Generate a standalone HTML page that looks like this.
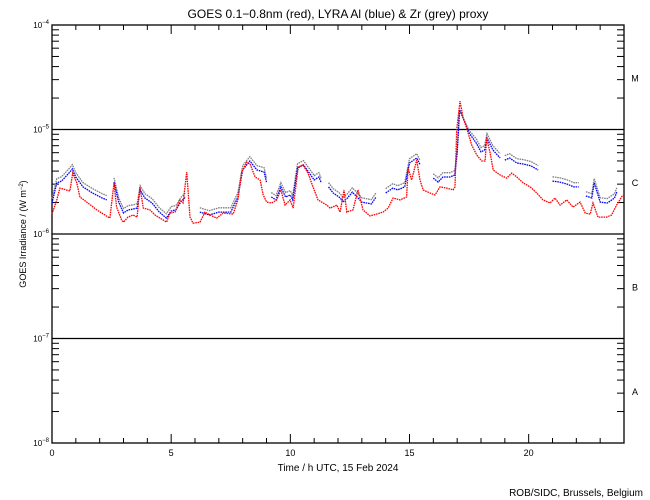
<!DOCTYPE html>
<html><head><meta charset="utf-8"><style>
html,body{margin:0;padding:0;background:#fff;}
svg{display:block;font-family:"Liberation Sans",sans-serif;}
</style></head><body>
<svg id="chart" width="650" height="500" viewBox="0 0 650 500" xmlns="http://www.w3.org/2000/svg">
<rect width="650" height="500" fill="#fff"/>
<text x="338" y="18" font-size="12" text-anchor="middle">GOES 0.1−0.8nm (red), LYRA Al (blue) &amp; Zr (grey) proxy</text>
<text x="338" y="471" font-size="10" text-anchor="middle">Time / h UTC, 15 Feb 2024</text>
<text transform="translate(26,234) rotate(-90)" font-size="9" text-anchor="middle">GOES Irradiance / (W m<tspan dy="-3" font-size="6">−2</tspan><tspan dy="3">)</tspan></text>
<text x="643" y="496" font-size="10" text-anchor="end">ROB/SIDC, Brussels, Belgium</text>
<g id="axes"></g>
<g id="series"></g>
</svg>
<script>
const xTickLabels = ["0","5","10","15","20"];
const yDecades = [-4,-5,-6,-7,-8];
const classLabels = ["M","C","B","A"];
// values in units of 1e-6 W/m^2
const redTimes = [0,0.2,0.33,0.75,0.87,1.04,1.17,1.46,1.88,2.22,2.43,2.6,2.71,2.92,3.0,3.19,3.4,3.57,3.69,3.83,4.11,4.32,4.53,4.81,4.95,5.16,5.37,5.5,5.65,5.79,5.92,6.21,6.42,6.63,6.91,7.18,7.6,7.8,7.96,8.17,8.31,8.52,8.73,8.86,9.01,9.22,9.43,9.6,9.78,9.99,10.12,10.33,10.53,10.74,10.95,11.16,11.53,11.67,11.95,12.09,12.25,12.37,12.63,12.84,13.05,13.34,13.62,13.89,14.1,14.31,14.6,14.88,14.94,15.09,15.3,15.44,15.57,15.86,16.07,16.28,16.56,16.83,16.91,16.98,17.12,17.25,17.4,17.61,17.82,18.03,18.17,18.24,18.38,18.51,18.8,19.08,19.29,19.5,19.77,20.06,20.34,20.6,20.9,21.1,21.32,21.6,21.86,22.16,22.37,22.58,22.7,22.91,23.27,23.48,23.69,23.95];
const redVals = [1.55,2.12,2.75,2.58,3.83,3.08,2.26,2.02,1.70,1.52,1.42,3.08,1.81,1.36,1.30,1.45,1.52,1.45,2.82,1.77,1.70,1.52,1.42,1.30,1.59,1.62,2.12,1.98,3.92,1.45,1.27,1.30,1.62,1.52,1.42,1.59,1.55,2.12,3.92,4.88,4.67,3.51,3.29,2.36,2.02,1.98,2.12,2.64,1.89,2.12,1.77,4.38,4.58,3.83,2.82,2.12,1.89,1.77,1.89,1.62,2.64,1.62,1.70,2.64,1.70,1.49,1.55,1.62,1.77,2.21,2.12,2.26,4.28,3.29,5.10,3.29,2.64,2.47,2.36,2.82,2.75,2.64,2.82,9.9,18.7,12.9,10.3,7.1,5.70,4.99,4.99,8.30,5.96,4.10,3.67,3.43,3.83,3.51,3.08,2.82,2.47,2.12,1.98,2.21,1.89,2.12,1.81,2.02,1.59,1.55,1.98,1.45,1.45,1.52,1.89,2.36];
const blueTimes = [0,0.2,0.4,0.75,0.85,1.0,1.3,1.7,2.1,2.3,null,2.6,2.8,3.0,3.2,3.4,3.57,3.7,3.9,4.2,4.5,4.8,5.0,5.2,5.4,5.6,null,6.2,6.6,7.0,7.5,7.8,8.0,8.3,8.6,8.9,9.0,null,9.2,9.4,9.6,9.8,10.0,10.1,10.3,10.55,10.8,11.0,11.2,11.3,null,11.6,11.8,12.1,12.2,12.4,12.6,12.8,13.0,13.4,13.6,null,14.0,14.3,14.5,14.8,15.0,15.3,15.45,null,16.0,16.2,16.4,16.7,16.9,17.0,17.1,17.25,17.5,17.8,18.0,18.15,18.25,18.5,18.8,null,19.0,19.2,19.5,19.8,20.1,20.4,null,21.0,21.3,21.6,21.9,22.1,null,22.4,22.65,22.75,23.0,23.3,23.6,23.7];
const blueVals = [1.98,3.08,3.21,3.92,4.19,3.51,2.82,2.47,2.21,2.12,null,3.14,2.02,1.59,1.70,1.73,1.77,2.64,2.21,1.98,1.62,1.42,1.66,1.70,2.02,2.26,null,1.62,1.52,1.62,1.62,2.26,4.10,4.99,4.10,3.92,3.14,null,2.26,2.12,2.82,2.26,2.36,2.12,4.28,4.58,3.83,3.29,3.51,3.08,null,2.82,2.47,2.21,2.02,2.21,2.52,2.26,2.02,1.94,2.26,null,2.47,2.75,2.64,2.82,4.78,5.34,4.58,null,3.43,3.14,3.51,3.51,3.67,5.96,15.4,12.9,9.27,7.43,6.10,6.36,8.30,6.36,5.34,null,5.10,5.34,4.78,4.67,4.48,4.10,null,3.21,3.14,3.01,2.82,2.82,null,2.31,2.21,3.08,2.02,1.98,2.21,2.52];
const greyVals = [2.18,3.39,3.53,4.31,4.61,3.86,3.10,2.72,2.43,2.33,null,3.45,2.22,1.75,1.87,1.90,1.95,2.90,2.43,2.18,1.78,1.56,1.83,1.87,2.22,2.49,null,1.78,1.67,1.78,1.78,2.49,4.51,5.49,4.51,4.31,3.45,null,2.49,2.33,3.10,2.49,2.60,2.33,4.71,5.04,4.21,3.62,3.86,3.39,null,3.10,2.72,2.43,2.22,2.43,2.77,2.49,2.22,2.13,2.49,null,2.72,3.03,2.90,3.10,5.26,5.87,5.04,null,3.77,3.45,3.86,3.86,4.04,6.56,15.4,12.9,9.8,8.17,6.71,7.00,9.13,7.00,5.87,null,5.61,5.87,5.26,5.14,4.93,4.51,null,3.53,3.45,3.31,3.10,3.10,null,2.54,2.43,3.39,2.22,2.18,2.43,2.77];

const NS="http://www.w3.org/2000/svg";
const L=52,R=624,T=25,B=443;
function xs(t){return L+(t/24)*(R-L);}
function ys(v){return T+(-4-Math.log10(v*1e-6))*(B-T)/4;}
function mk(tag,attrs,parent){const e=document.createElementNS(NS,tag);for(const k in attrs)e.setAttribute(k,attrs[k]);parent.appendChild(e);return e;}
const ax=document.getElementById('axes');
const frame=mk('rect',{x:L,y:T,width:R-L,height:B-T,fill:'none',stroke:'#000','stroke-width':1.3},ax);


// y decades
yDecades.forEach((d,i)=>{
  const y=T+i*(B-T)/4;
  if(i>0&&i<4){const ln=mk('line',{x1:L,x2:R,y1:y,y2:y,stroke:'#000','stroke-width':1.3},ax);
    
    }
  const tx=mk('text',{x:L-3,y:y+3,'font-size':8,'text-anchor':'end'},ax);
  
  
  tx.innerHTML='10<tspan dy="-4" font-size="6">'+(d<0?'−':'')+Math.abs(d)+'</tspan>';
  if(i<4){for(let m=2;m<=9;m++){const yy=y+(B-T)/4-Math.log10(m)*(B-T)/4;
    mk('line',{x1:L,x2:L+7,y1:yy,y2:yy,stroke:'#000'},ax);
    mk('line',{x1:R,x2:R-7,y1:yy,y2:yy,stroke:'#000'},ax);}}
});
classLabels.forEach((c,i)=>{
  const y=T+(i+0.5)*(B-T)/4;
  const tx=mk('text',{x:635,y:y+4,'font-size':9,'text-anchor':'middle'},ax);
  
  
  tx.textContent=c;
});
for(let h=1;h<24;h++){const x=xs(h);const len=h%5===0?9:5;
  mk('line',{x1:x,x2:x,y1:B,y2:B-len,stroke:'#000'},ax);
  mk('line',{x1:x,x2:x,y1:T,y2:T+len,stroke:'#000'},ax);}
xTickLabels.forEach(s=>{const tx=mk('text',{x:xs(+s),y:456,'font-size':9,'text-anchor':'middle'},ax);
  
  
  tx.textContent=s;});
const sg=document.getElementById('series');
function draw(times,vals,color,name){
  let segs=[],cur=[];
  for(let i=0;i<times.length;i++){
    if(times[i]===null||vals[i]===null){if(cur.length)segs.push(cur);cur=[];continue;}
    cur.push(xs(times[i]).toFixed(1)+','+ys(vals[i]).toFixed(1));
  }
  if(cur.length)segs.push(cur);
  segs.forEach(s=>{
    const p=mk('polyline',{points:s.join(' '),fill:'none',stroke:color,'stroke-width':1.3,'stroke-dasharray':'1.6 0.8'},sg);
    
    
  });
}
draw(blueTimes,greyVals,'#808080','zr-grey-series');
draw(blueTimes,blueVals,'#0000ff','al-blue-series');
draw(redTimes,redVals,'#ff0000','goes-red-series');
</script>
</body></html>
